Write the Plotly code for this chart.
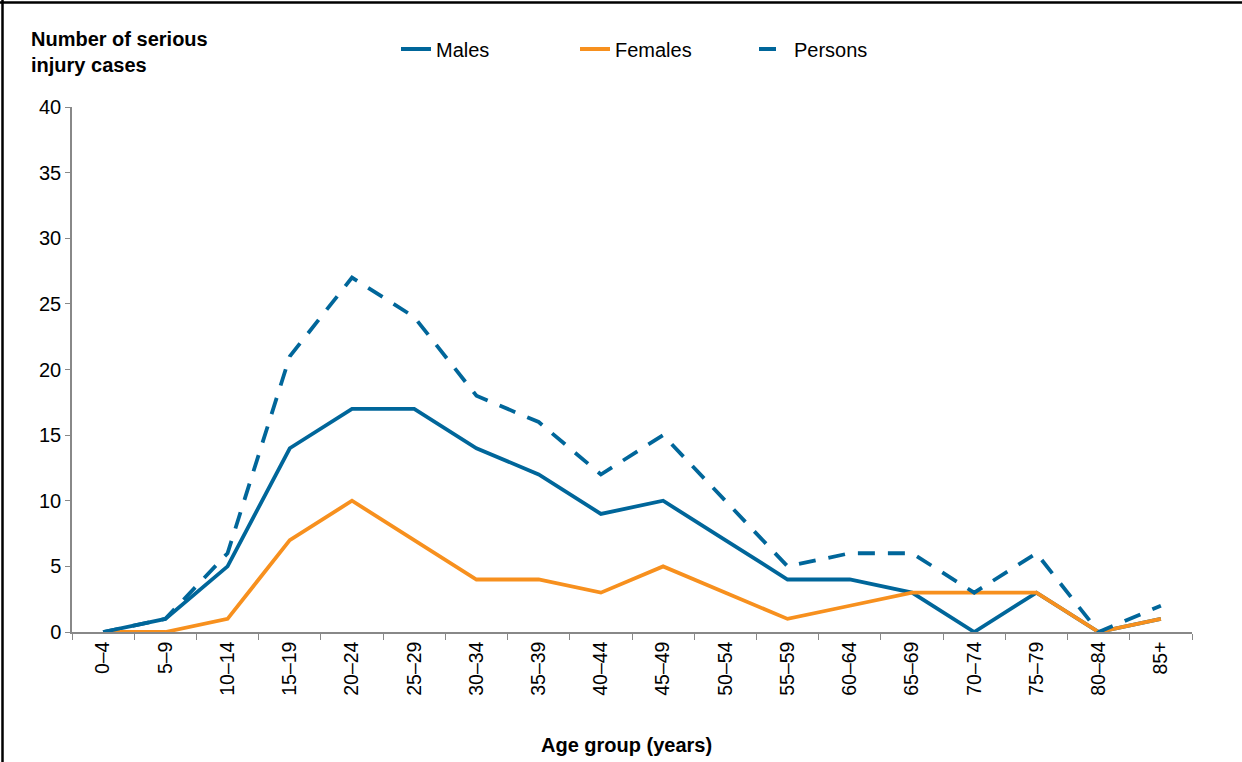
import plotly.graph_objects as go

age_groups = ["0–4", "5–9", "10–14", "15–19", "20–24", "25–29", "30–34", "35–39", "40–44",
              "45–49", "50–54", "55–59", "60–64", "65–69", "70–74", "75–79", "80–84", "85+"]
males = [0, 1, 5, 14, 17, 17, 14, 12, 9, 10, 7, 4, 4, 3, 0, 3, 0, 1]
females = [0, 0, 1, 7, 10, 7, 4, 4, 3, 5, 3, 1, 2, 3, 3, 3, 0, 1]
persons = [0, 1, 6, 21, 27, 24, 18, 16, 12, 15, 10, 5, 6, 6, 3, 6, 0, 2]

BLUE = "#00669A"
ORANGE = "#F7901E"
FONT = "Liberation Sans, Arial, sans-serif"

W, H = 1242, 762
L, R, T, B = 72, 50, 107, 130
pw, ph = W - L - R, H - T - B


def px_x(px):
    return (px - L) / pw


def px_y(py):
    return (H - B - py) / ph


fig = go.Figure()
fig.add_trace(go.Scatter(x=age_groups, y=males, mode="lines", name="Males",
                         line=dict(color=BLUE, width=3.8)))
fig.add_trace(go.Scatter(x=age_groups, y=females, mode="lines", name="Females",
                         line=dict(color=ORANGE, width=3.8)))
fig.add_trace(go.Scatter(x=age_groups, y=persons, mode="lines", name="Persons",
                         line=dict(color=BLUE, width=3.8, dash="17px,13px")))

fig.update_layout(
    width=W, height=H,
    margin=dict(l=L, r=R, t=T, b=B, autoexpand=False),
    paper_bgcolor="white", plot_bgcolor="white",
    font=dict(family=FONT, size=20, color="black"),
    showlegend=True,
    legend=dict(orientation="h", x=px_x(396), y=px_y(49), xanchor="left", yanchor="middle",
                font=dict(size=20), entrywidth=134, entrywidthmode="pixels",
                bgcolor="rgba(0,0,0,0)", traceorder="normal"),
    xaxis=dict(type="category", range=[-0.5, 17.5], showline=True, linecolor="#888888",
               linewidth=1.5, ticks="outside", tickson="boundaries", ticklen=6,
               tickcolor="#888888", tickangle=-90, showgrid=False, zeroline=False,
               tickfont=dict(size=19.5)),
    yaxis=dict(range=[0, 40], dtick=5, showline=True, linecolor="#888888", linewidth=1.5,
               ticks="outside", ticklen=5, tickcolor="#888888", showgrid=False,
               zeroline=False, tickfont=dict(size=20)),
    annotations=[
        dict(text="<b>Number of serious<br>injury cases</b>", xref="paper", yref="paper",
             x=px_x(29), y=px_y(26), xanchor="left", yanchor="top",
             align="left", showarrow=False, font=dict(size=20)),
        dict(text="<b>Age group (years)</b>", xref="paper", yref="paper",
             x=px_x(626), y=px_y(745), xanchor="center", yanchor="middle",
             showarrow=False, font=dict(size=20)),
    ],
    shapes=[
        dict(type="line", xref="paper", yref="paper", x0=px_x(0), x1=px_x(W),
             y0=px_y(2.5), y1=px_y(2.5), line=dict(color="black", width=2.5)),
        dict(type="line", xref="paper", yref="paper", x0=px_x(2.5), x1=px_x(2.5),
             y0=px_y(0), y1=px_y(H), line=dict(color="black", width=2.5)),
    ],
)

fig.write_html("out.html", config={"displayModeBar": False},
               post_script="document.body.style.margin='0';document.body.style.overflow='hidden';")
